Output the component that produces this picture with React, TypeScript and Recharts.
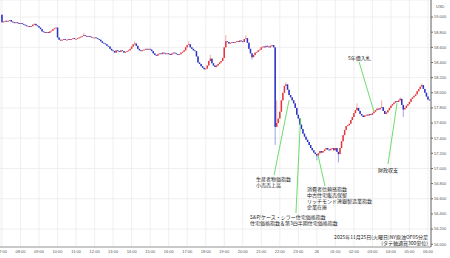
import React from 'react'
import {
  ComposedChart,
  Bar,
  XAxis,
  YAxis,
  CartesianGrid,
  ReferenceLine,
  ReferenceDot,
} from 'recharts'

// NY crude, 5-minute bars from 07:00 (hour 0) to 06:05 next day
const firstOpen = 59.03
const closes: number[] = [
  // 07:00
  58.93, 58.94, 58.95, 58.94, 58.95, 58.96, 58.94, 58.93, 58.92, 58.93, 58.92, 58.91,
  // 08:00
  58.92, 58.91, 58.90, 58.89, 58.88, 58.88, 58.87, 58.88, 58.90, 58.91, 58.89, 58.88,
  // 09:00
  58.86, 58.84, 58.81, 58.80, 58.79, 58.80, 58.79, 58.81, 58.82, 58.84, 58.85, 58.86,
  // 10:00
  58.73, 58.70, 58.69, 58.70, 58.71, 58.70, 58.70, 58.71, 58.70, 58.71, 58.72, 58.71,
  // 11:00
  58.71, 58.72, 58.73, 58.74, 58.75, 58.76, 58.75, 58.74, 58.75, 58.74, 58.73, 58.73,
  // 12:00
  58.73, 58.72, 58.71, 58.70, 58.68, 58.66, 58.65, 58.64, 58.62, 58.61, 58.58, 58.56,
  // 13:00
  58.55, 58.53, 58.56, 58.55, 58.54, 58.56, 58.55, 58.53, 58.54, 58.55, 58.56, 58.58,
  // 14:00
  58.61, 58.64, 58.65, 58.62, 58.58, 58.56, 58.55, 58.56, 58.57, 58.58, 58.57, 58.58,
  // 15:00
  58.57, 58.55, 58.52, 58.50, 58.49, 58.51, 58.52, 58.51, 58.53, 58.52, 58.51, 58.52,
  // 16:00
  58.51, 58.50, 58.52, 58.53, 58.52, 58.51, 58.50, 58.51, 58.53, 58.54, 58.56, 58.60,
  // 17:00
  58.63, 58.64, 58.60, 58.58, 58.56, 58.55, 58.48, 58.40, 58.38, 58.35, 58.33, 58.31,
  // 18:00
  58.32, 58.36, 58.42, 58.45, 58.39, 58.36, 58.34, 58.36, 58.38, 58.40, 58.42, 58.46,
  // 19:00
  58.60, 58.68, 58.67, 58.65, 58.66, 58.67, 58.66, 58.67, 58.68, 58.67, 58.69, 58.68,
  // 20:00
  58.67, 58.71, 58.72, 58.66, 58.58, 58.52, 58.47, 58.50, 58.53, 58.54, 58.56, 58.57,
  // 21:00
  58.60, 58.61, 58.60, 58.62, 58.61, 58.60, 58.62, 58.63, 58.60, 57.55, 57.60, 57.66,
  // 22:00
  57.75, 57.90, 58.00, 58.09, 58.11, 58.04, 57.97, 57.94, 57.90, 57.86, 57.80, 57.71,
  // 23:00
  57.66, 57.58, 57.52, 57.46, 57.42, 57.38, 57.35, 57.31, 57.27, 57.24, 57.21, 57.19,
  // 00:00
  57.17, 57.20, 57.23, 57.21, 57.23, 57.25, 57.27, 57.25, 57.24, 57.26, 57.27, 57.24,
  // 01:00
  57.27, 57.22, 57.19, 57.27, 57.36, 57.44, 57.51, 57.56, 57.57, 57.59, 57.64, 57.68,
  // 02:00
  57.73, 57.77, 57.80, 57.76, 57.72, 57.70, 57.68, 57.70, 57.71, 57.70, 57.72, 57.71,
  // 03:00
  57.73, 57.75, 57.77, 57.79, 57.78, 57.80, 57.81, 57.76, 57.72, 57.74, 57.77, 57.80,
  // 04:00
  57.83, 57.85, 57.87, 57.89, 57.88, 57.90, 57.92, 57.84, 57.78, 57.80, 57.83, 57.85,
  // 05:00
  57.88, 57.92, 57.94, 57.96, 57.98, 58.02, 58.05, 58.08, 58.10, 58.05, 58.00, 57.95,
  // 06:00
  57.91, 57.90,
]

// visible wicks: [bar index, price]
const wickHighs: [number, number][] = [
  [53, 58.79], [86, 58.68], [121, 58.68], [135, 58.5], [145, 58.76], [158, 58.76],
  [178, 57.9], [184, 58.14], [230, 57.86], [246, 57.9], [258, 57.94], [272, 58.12],
]
const wickLows: [number, number][] = [
  [162, 58.44], [177, 57.31], [204, 57.11], [218, 57.08], [260, 57.68],
]

const hourTicks = [0, 1, 2, 3, 4, 5, 6, 7, 8, 9, 10, 11, 12, 13, 14, 15, 16, 17, 18, 19, 20, 21, 22, 23]
const hourLabels = [
  '07:00', '08:00', '09:00', '10:00', '11:00', '12:00', '13:00', '14:00', '15:00', '16:00',
  '17:00', '18:00', '19:00', '20:00', '21:00', '22:00', '23:00', '26', '01:00', '02:00',
  '03:00', '04:00', '05:00', '06:00',
]
const priceTicks = [56.0, 56.2, 56.4, 56.6, 56.8, 57.0, 57.2, 57.4, 57.6, 57.8, 58.0, 58.2, 58.4, 58.6, 58.8, 59.0]

// event notes: leader line [hour, price] -> [hour, price], text anchor and lines
const eventLines: { from: [number, number]; to: [number, number] }[] = [
  { from: [19.28, 58.406], to: [20.09, 57.745] },
  { from: [20.84, 57.058], to: [21.33, 57.864] },
  { from: [14.69, 56.913], to: [15.5, 57.904] },
  { from: [15.87, 56.411], to: [16.12, 57.666] },
  { from: [17.44, 56.767], to: [17.06, 57.177] },
]
const eventNotes: { at: [number, number]; lines: string[]; end?: boolean }[] = [
  { at: [18.68, 58.432], lines: ['5年債入札'] },
  { at: [20.3, 56.953], lines: ['財政収支'] },
  { at: [13.71, 56.834], lines: ['生産者物価指数', '小売売上高'] },
  { at: [13.39, 56.332], lines: ['S&P/ケース・シラー住宅価格指数', '住宅価格指数＆第3四半期住宅価格指数'] },
  { at: [16.47, 56.701], lines: ['消費者信頼感指数', '中古住宅販売保留', 'リッチモンド連銀製造業指数', '企業在庫'] },
  { at: [23.0, 56.067], lines: ['2025年11月25日(火曜日)NY原油OF05分足', '(タテ軸通貨300単位)'], end: true },
]

const UP = '#e5363c'
const DOWN = '#2a32c6'
const FONT = '"Noto Sans CJK JP", "Noto Sans", sans-serif'

const candles = closes.map((close, i) => {
  const open = i === 0 ? firstOpen : closes[i - 1]
  let high = Math.max(open, close)
  let low = Math.min(open, close)
  const wh = wickHighs.find(w => w[0] === i)
  const wl = wickLows.find(w => w[0] === i)
  if (wh) high = Math.max(high, wh[1])
  if (wl) low = Math.min(low, wl[1])
  return { t: i / 12, open, close, high, low, range: [low, high] }
})

const Candle = (props: any) => {
  const { x, y, width, height, payload } = props
  if (!payload || x == null) return null
  const { open, close, high, low } = payload
  const color = close >= open ? UP : DOWN
  const span = high - low
  const toY = (v: number) => (span > 0 ? y + ((high - v) / span) * height : y)
  const top = toY(Math.max(open, close))
  const bot = toY(Math.min(open, close))
  const cx = x + width / 2
  return (
    <g>
      <line x1={cx} x2={cx} y1={toY(high)} y2={toY(low)} stroke={color} strokeOpacity={0.55} strokeWidth={0.8} />
      <rect x={x} y={top} width={width} height={Math.max(bot - top, 0.8)} fill={color} />
    </g>
  )
}

const NoteText = ({ cx, cy, lines, end }: any) => (
  <text x={cx} y={cy} fontSize={5} fontFamily={FONT} fill="#222" textAnchor={end ? 'end' : 'start'}>
    {lines.map((l: string, k: number) => (
      <tspan key={k} x={cx} dy={k === 0 ? 0 : 6}>{l}</tspan>
    ))}
  </text>
)

export default function App() {
  return (
    <div style={{ position: 'absolute', left: 0, top: 0, background: '#fff' }}>
      <ComposedChart
        width={450}
        height={258}
        data={candles}
        margin={{ top: 0, right: 0, bottom: 0, left: 0 }}
      >
        <CartesianGrid stroke="#ebebeb" strokeWidth={0.8} />
        <XAxis
          dataKey="t"
          type="number"
          domain={[-0.108, 23.162]}
          allowDataOverflow
          ticks={hourTicks}
          tickFormatter={(h: number) => hourLabels[h] ?? ''}
          interval={0}
          height={11}
          tickLine={false}
          tickSize={0}
          tickMargin={3}
          axisLine={{ stroke: '#9a9a9a' }}
          tick={{ fontSize: 4, fill: '#555', fontFamily: 'Arial, sans-serif' }}
        />
        <YAxis
          orientation="right"
          type="number"
          domain={[55.963, 59.225]}
          allowDataOverflow
          ticks={priceTicks}
          tickFormatter={(v: number) => v.toFixed(3)}
          width={19}
          tickSize={2}
          tickMargin={1}
          axisLine={{ stroke: '#666' }}
          tickLine={{ stroke: '#666' }}
          tick={{ fontSize: 4, fill: '#555', fontFamily: 'Arial, sans-serif', textAnchor: 'start' }}
          label={{
            content: (p: any) => (
              <text x={(p.viewBox?.x ?? 431) + 5} y={8} fontSize={4} fill="#555" fontFamily="Arial, sans-serif">USD</text>
            ),
          }}
        />
        {eventLines.map((l, k) => (
          <ReferenceLine
            key={'l' + k}
            segment={[{ x: l.from[0], y: l.from[1] }, { x: l.to[0], y: l.to[1] }]}
            stroke="#5ed85e"
            strokeWidth={0.9}
          />
        ))}
        <Bar
          dataKey="range"
          barSize={1.5}
          shape={<Candle />}
          isAnimationActive={false}
        />
        {eventNotes.map((n, k) => (
          <ReferenceDot
            key={'n' + k}
            x={n.at[0]}
            y={n.at[1]}
            r={0}
            shape={(p: any) => <NoteText cx={p.cx} cy={p.cy} lines={n.lines} end={n.end} />}
          />
        ))}
      </ComposedChart>
    </div>
  )
}
